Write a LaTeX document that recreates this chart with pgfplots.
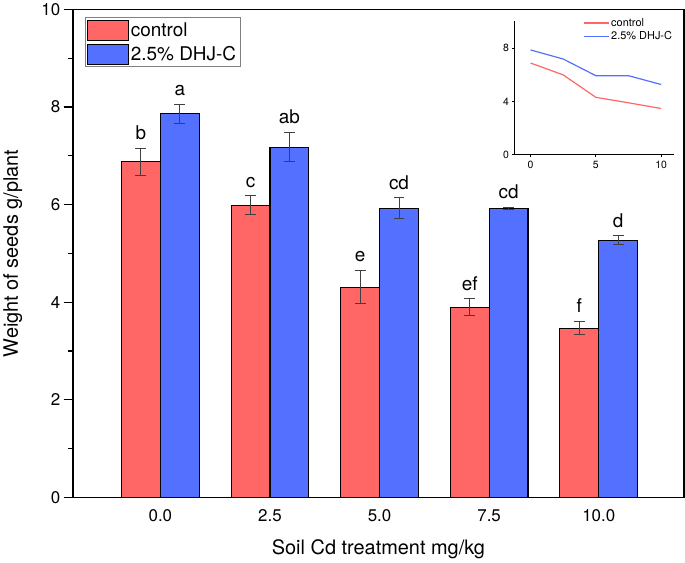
\documentclass[border=0pt]{standalone}
\usepackage{pgfplots}
\usepackage{pgfplotstable}
\pgfplotsset{compat=1.18}
\usepackage{fontspec}
\setmainfont{TeX Gyre Heros}

\definecolor{ctrlred}{RGB}{255,102,102}
\definecolor{dhjblue}{RGB}{84,112,255}

% x = group index, c/d = means, ce/de = error, cl/dl = letters
\pgfplotstableread{
x c ce cl d de dl
0 6.88 0.28 b 7.86 0.20 a
1 5.99 0.19 c 7.18 0.30 ab
2 4.31 0.34 e 5.93 0.21 cd
3 3.90 0.17 ef 5.93 0.02 cd
4 3.47 0.14 f 5.27 0.09 d
}\seeds

\pgfplotstableread{
cd c d
0 6.88 7.86
2.5 5.99 7.18
5 4.31 5.93
7.5 3.90 5.93
10 3.47 5.27
}\inset

\begin{document}
\begin{tikzpicture}
\begin{axis}[
    scale only axis,
    width=614pt, height=490pt,
    ybar=0pt, bar width=0.355,
    xmin=-0.8, xmax=4.78,
    ymin=0, ymax=10,
    xtick={0,1,2,3,4},
    xticklabels={0.0,2.5,5.0,7.5,10.0},
    ytick={0,2,4,6,8,10},
    minor y tick num=1,
    ytick pos=left,
    tick align=outside,
    major tick length=9pt,
    minor tick length=5pt,
    xtick style={draw=none},
    tick style={black, line width=1.2pt},
    axis line style={line width=1.6pt},
    /pgf/number format/assume math mode=true,
    ticklabel style={font=\fontsize{17}{20}\selectfont},
    xlabel={Soil Cd treatment mg/kg},
    ylabel={Weight of seeds g/plant},
    xlabel style={font=\fontsize{20}{24}\selectfont, at={(axis description cs:0.5,-0.106)}, anchor=center},
    ylabel style={font=\fontsize{20}{24}\selectfont, at={(axis description cs:-0.098,0.5)}, anchor=center},
    legend style={at={(axis description cs:0.0195,0.984)}, anchor=north west,
        draw=gray, line width=1pt, inner xsep=2pt, inner ysep=2pt, row sep=3pt,
        font=\fontsize{19}{21}\selectfont, cells={anchor=west},
        /tikz/every even column/.append style={column sep=4pt}},
    legend image code/.code={\draw[#1, draw=black, line width=1pt] (0pt,-10pt) rectangle (41pt,10pt);},
    point meta=explicit symbolic,
    nodes near coords,
    nodes near coords style={anchor=south, inner sep=0pt, black,
        yshift={49*\err+8}, font=\fontsize{19}{22}\selectfont},
]
\addplot[fill=ctrlred, draw=black, line width=1.1pt,
    visualization depends on={\thisrow{ce} \as \err},
    error bars/.cd, y dir=both, y explicit,
    error bar style={line width=1pt, draw=black!75},
    error mark options={rotate=90, mark size=5.5pt, line width=1pt, draw=black!75}]
    table[x=x, y=c, y error=ce, meta=cl] {\seeds};
\addlegendentry{control}
\addplot[fill=dhjblue, draw=black, line width=1.1pt,
    visualization depends on={\thisrow{de} \as \err},
    error bars/.cd, y dir=both, y explicit,
    error bar style={line width=1pt, draw=black!75},
    error mark options={rotate=90, mark size=5.5pt, line width=1pt, draw=black!75}]
    table[x=x, y=d, y error=de, meta=dl] {\seeds};
\addlegendentry{2.5\% DHJ-C}
\end{axis}

\begin{axis}[
    at={(444pt,344pt)}, anchor=south west,
    scale only axis,
    width=160pt, height=134pt,
    xmin=-1.2, xmax=11, ymin=0, ymax=10,
    axis x line*=bottom, axis y line*=left,
    axis line style={-, line width=1.1pt},
    xtick={0,5,10}, ytick={0,4,8},
    tick align=outside, major tick length=2.5pt,
    tick style={black, line width=0.8pt},
    /pgf/number format/assume math mode=true,
    ticklabel style={font=\fontsize{10.5}{12}\selectfont},
    legend style={at={(axis description cs:1.0,1.04)}, anchor=north east,
        draw=none, fill=none, row sep=0pt, inner sep=0pt,
        font=\fontsize{11}{13}\selectfont, cells={anchor=west}},
    legend image code/.code={\draw[#1, line width=1.2pt] (0pt,0pt) -- (25pt,0pt);},
]
\addplot[draw=ctrlred, line width=1.2pt] table[x=cd, y=c] {\inset};
\addlegendentry{control}
\addplot[draw=dhjblue, line width=1.2pt] table[x=cd, y=d] {\inset};
\addlegendentry{2.5\% DHJ-C}
\end{axis}
\end{tikzpicture}
\end{document}
